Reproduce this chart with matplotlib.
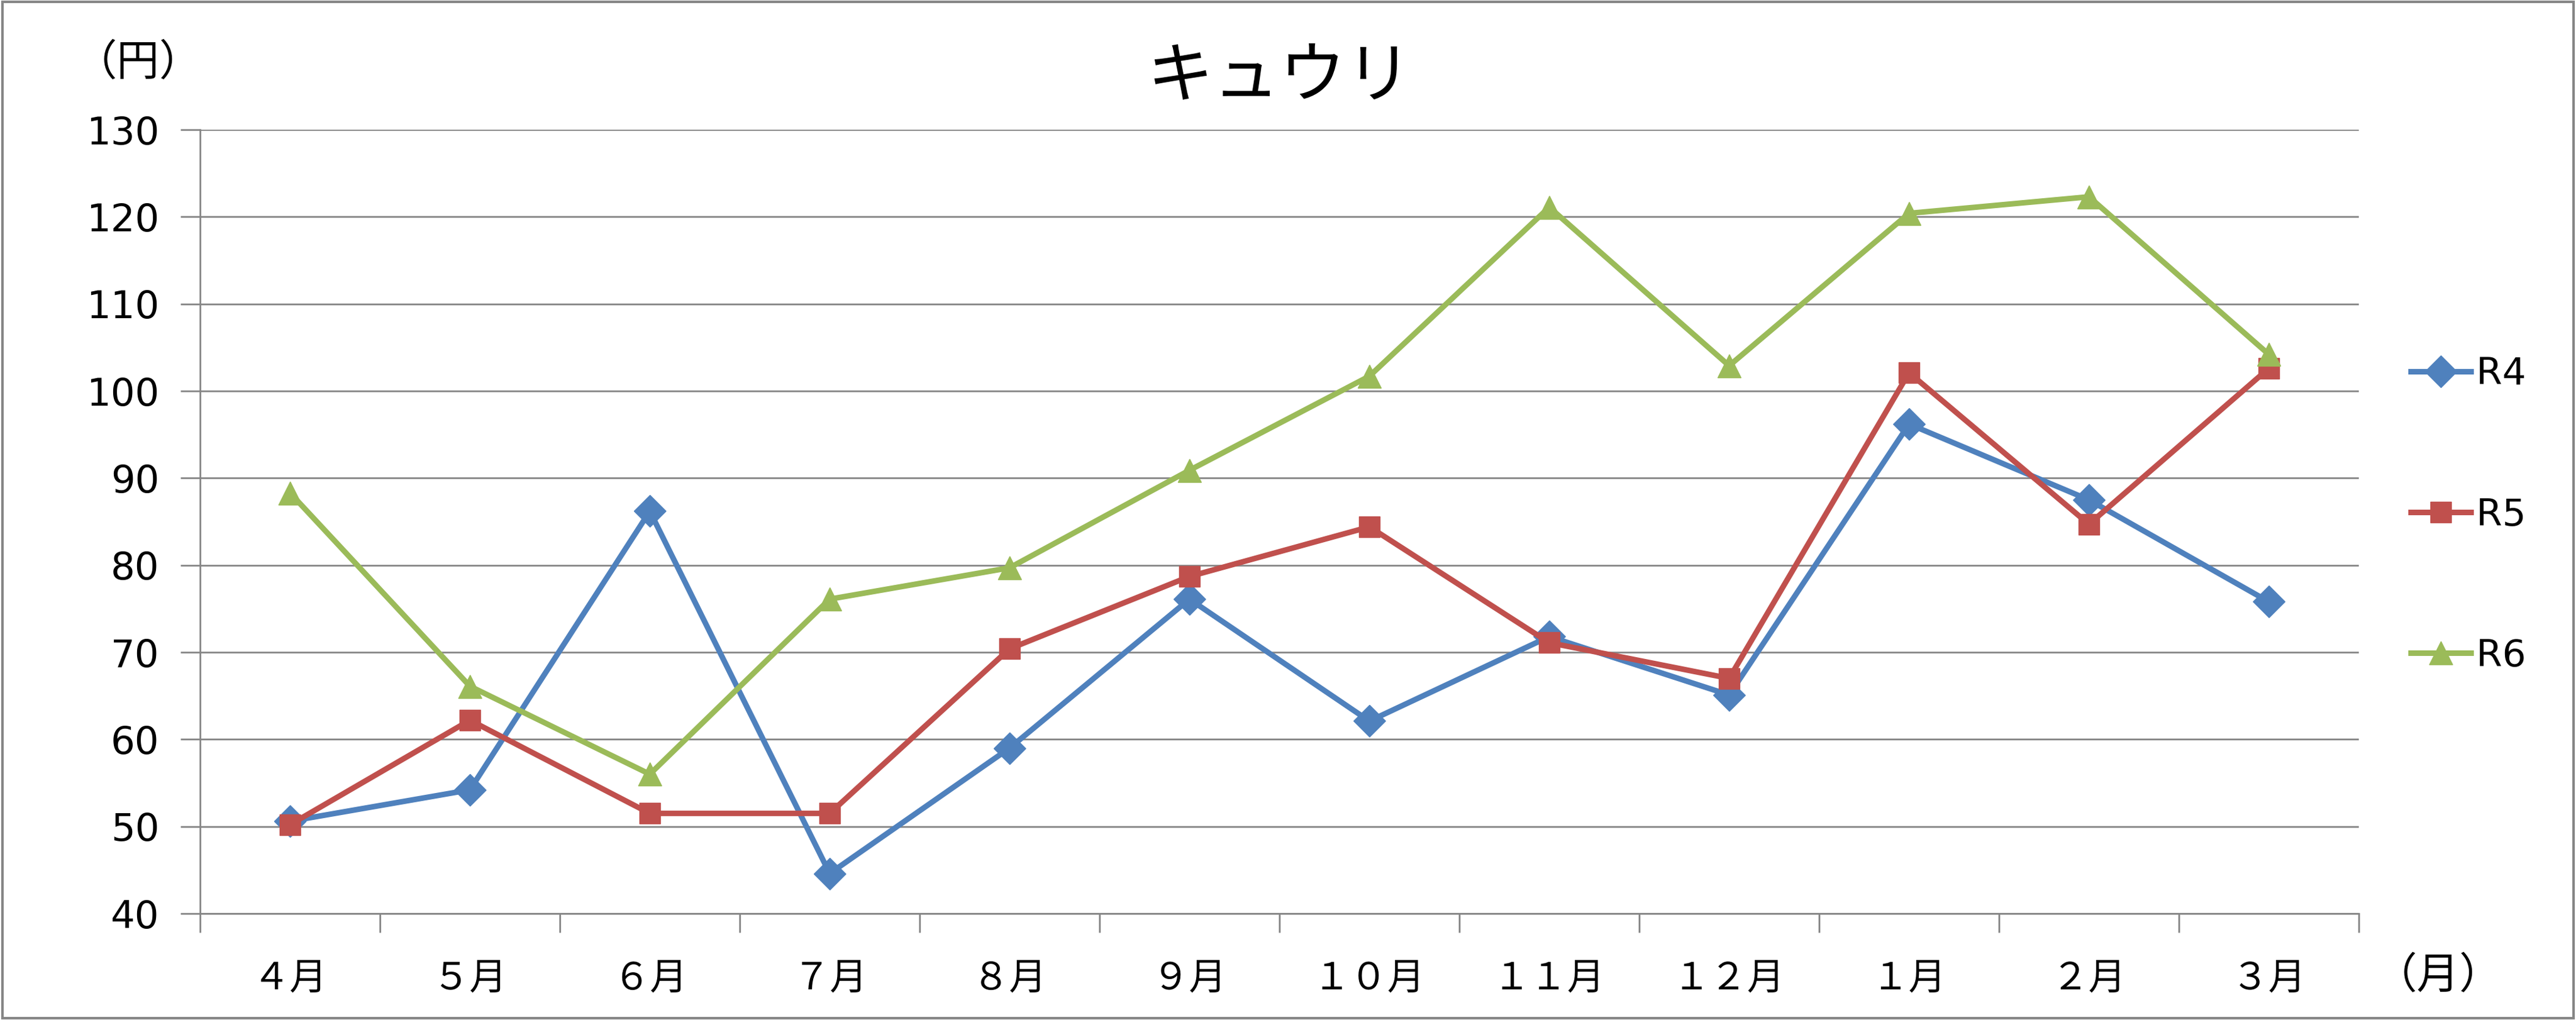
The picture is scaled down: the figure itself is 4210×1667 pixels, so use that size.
import matplotlib
matplotlib.use("Agg")
import matplotlib.pyplot as plt
from matplotlib.patches import Rectangle
import numpy as np

months = ["４月", "５月", "６月", "７月", "８月", "９月",
          "１０月", "１１月", "１２月", "１月", "２月", "３月"]
r4 = [50.6, 54.2, 86.2, 44.6, 59.0, 76.1, 62.1, 71.8, 65.1, 96.2, 87.5, 75.8]
r5 = [50.2, 62.2, 51.5, 51.5, 70.4, 78.7, 84.4, 71.1, 67.0, 102.1, 84.7, 102.6]
r6 = [88.3, 66.1, 56.0, 76.1, 79.7, 90.9, 101.7, 121.1, 102.9, 120.4, 122.3, 104.2]
yticks = [40, 50, 60, 70, 80, 90, 100, 110, 120, 130]

plt.rcParams['font.family'] = ['DejaVu Sans', 'Noto Sans CJK JP']
grid_c = "#868686"

W, H = 4210, 1667
fig = plt.figure(figsize=(W / 100, H / 100), dpi=100)
ax = fig.add_axes([327 / W, 1 - 1493 / H, (3855 - 327) / W, (1493 - 212) / H])

x = np.arange(len(months))
ax.plot(x, r4, color="#4F81BD", lw=6.5, marker="D", ms=26, label="R4")
ax.plot(x, r5, color="#C0504D", lw=6.5, marker="s", ms=24, label="R5")
ax.plot(x, r6, color="#9BBB59", lw=6.5, marker="^", ms=27, label="R6")

ax.set_xlim(-0.5, len(months) - 0.5)
ax.set_ylim(40, 130)
ax.set_yticks(yticks)
ax.set_yticklabels([str(v) for v in yticks])
ax.yaxis.grid(True, color=grid_c, lw=2)
ax.set_axisbelow(True)

ax.set_xticks(np.arange(-0.5, len(months), 1.0))
ax.set_xticklabels([])
ax.set_xticks(x, minor=True)
ax.set_xticklabels(months, minor=True, fontsize=44, family=['Noto Sans CJK JP'])
ax.tick_params(axis="x", which="major", length=22, width=2, color=grid_c, direction="out")
ax.tick_params(axis="x", which="minor", length=0, pad=54)
ax.tick_params(axis="y", length=23, width=2, color=grid_c, labelsize=45, pad=25)

for s in ["top", "right"]:
    ax.spines[s].set_visible(False)
for s in ["left", "bottom"]:
    ax.spines[s].set_color(grid_c)
    ax.spines[s].set_linewidth(2)

fig.text(2091 / W, 1 - 128 / H, "キュウリ", fontsize=78, ha="center", va="center",
         family=['Noto Sans CJK JP'])
fig.text(226 / W, 1 - 104 / H, "（円）", fontsize=50, ha="center", va="center",
         family=['Noto Sans CJK JP'])
fig.text(3985 / W, 1 - 1596 / H, "（月）", fontsize=50, ha="center", va="center",
         family=['Noto Sans CJK JP'])

fig.legend(loc="center left", bbox_to_anchor=(3940 / W, 1 - 842 / H), frameon=False,
           fontsize=44, handlelength=1.6, handletextpad=0.15, labelspacing=2.8,
           borderpad=0, borderaxespad=0)

fig.patches.append(Rectangle((0.001, 0.002), 0.998, 0.996, transform=fig.transFigure,
                             fill=False, edgecolor=grid_c, lw=3))

fig.savefig("out.png", dpi=100)
